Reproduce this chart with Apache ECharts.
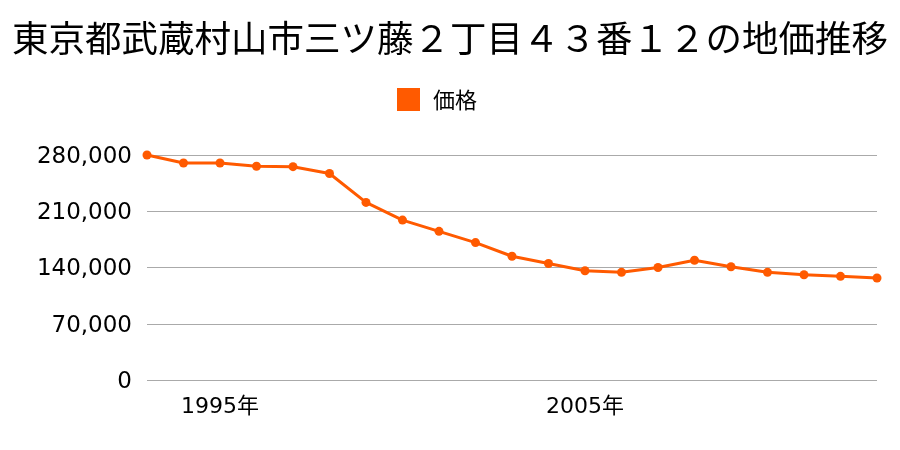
<!DOCTYPE html>
<html><head><meta charset="utf-8">
<script src="https://cdn.jsdelivr.net/npm/echarts@6/dist/echarts.min.js"></script>
<style>html,body{margin:0;padding:0;background:#fff}#c{width:900px;height:450px}</style>
</head><body><div id="c"></div>
<script>
const years = ['1993','1994','1995','1996','1997','1998','1999','2000','2001','2002','2003','2004','2005','2006','2007','2008','2009','2010','2011','2012','2013'];
const prices = [280000,270000,270000,266000,265500,257000,221000,199000,185000,171000,154000,145000,136000,134000,140000,149000,141000,134000,131000,129000,127000];
const yTicks = [0,70000,140000,210000,280000];
const titleText = '東京都武蔵村山市三ツ藤２丁目４３番１２の地価推移';
const seriesName = '価格';
const CJK = '"Noto Sans CJK JP", sans-serif';
const NUM = '"DejaVu Sans", "Noto Sans CJK JP", sans-serif';
const chart = echarts.init(document.getElementById('c'));
chart.setOption({
  animation:false,
  title:{text:titleText,left:'center',top:15,textStyle:{fontFamily:CJK,fontSize:36.5,fontWeight:'normal',color:'#000'}},
  legend:{data:[{name:seriesName,icon:'rect'}],top:83,left:392,itemWidth:23,itemHeight:23,itemGap:8,textStyle:{fontFamily:CJK,fontSize:22,color:'#000',padding:[0,0,0,8]}},
  grid:{left:147,right:23,top:155,bottom:70,containLabel:false},
  xAxis:{type:'category',data:years,boundaryGap:false,
    axisLine:{show:false},axisTick:{show:false},
    axisLabel:{fontFamily:NUM,fontSize:22,color:'#000',margin:16,
      interval:(i,v)=>((parseInt(v)-1995)%10===0),formatter:v=>v+'年'}},
  yAxis:{type:'value',min:yTicks[0],max:yTicks[yTicks.length-1],interval:70000,
    axisLine:{show:false},axisTick:{show:false},
    axisLabel:{color:'#000',margin:15,formatter:v=>'{a|'+v.toLocaleString('en-US')+'}',
      rich:{a:{fontFamily:NUM,fontSize:23,color:'#000',padding:[4,0,0,0]}}},
    splitLine:{lineStyle:{color:'#aaaaaa',width:1}}},
  series:[{name:seriesName,type:'line',data:prices,color:'#ff5a00',
    lineStyle:{width:3,color:'#ff5a00'},symbol:'circle',symbolSize:9,
    itemStyle:{color:'#ff5a00'}}]
});
</script></body></html>
